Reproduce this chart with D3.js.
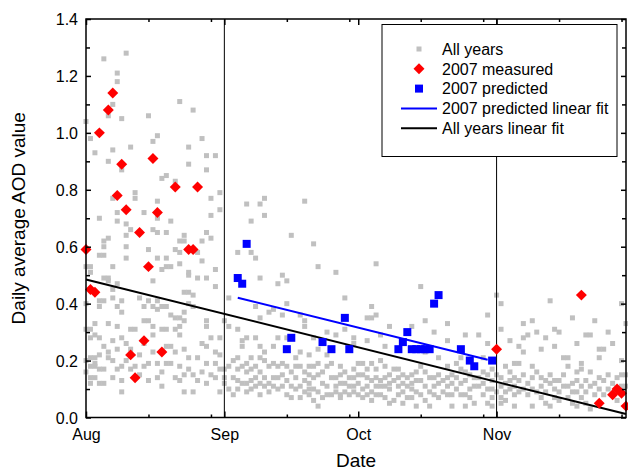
<!DOCTYPE html>
<html><head><meta charset="utf-8">
<script src="https://cdn.jsdelivr.net/npm/d3@7"></script>
<style>
body{margin:0;background:#fff}
svg{display:block;font-family:Arial,"Liberation Sans",sans-serif}
</style>
</head><body>
<svg id="chart" width="628" height="472"></svg>
<script>
// ---------- data ----------
const seasonStart = "2007-08-01";
const seasonEnd = "2007-11-30";
const monthLabels = ["Aug", "Sep", "Oct", "Nov"];
const monthStarts = ["2007-08-01", "2007-09-01", "2007-10-01", "2007-11-01"];
const minorTickDates = ["2007-08-15", "2007-08-29", "2007-09-15", "2007-09-29", "2007-10-15", "2007-10-29", "2007-11-15", "2007-11-29"];
const monthLines = ["2007-09-01", "2007-11-01"];
const yTicks = [0.0, 0.2, 0.4, 0.6, 0.8, 1.0, 1.2, 1.4];
const yMinorTicks = [0.1, 0.3, 0.5, 0.7, 0.9, 1.1, 1.3];
const legendLabels = ["All years", "2007 measured", "2007 predicted", "2007 predicted linear fit", "All years linear fit"];

// [days since Aug 1, daily average AOD]
const allYears = [
[4,1.26],[9,1.28],[7,1.21],[7,1.18],[6,1.10],[5,1.06],[8,1.05],[0,1.04],[14,1.06],[21,1.11],[24,1.08],[1,0.98],[2,0.93],[6,0.94],[10,0.95],[5,0.90],[15,0.97],[16,0.99],[23,0.95],[26,0.98],[27,0.92],[29,0.92],[23,0.89],[27,0.87],[8,0.87],[17,0.84],[18,0.85],[20,0.83],[6,0.77],[11,0.79],[11,0.77],[7,0.72],[7,0.69],[3,0.70],[9,0.68],[13,0.72],[16,0.76],[16,0.70],[19,0.69],[28,0.77],[28,0.71],[30,0.79],[30,0.73],[5,0.63],[10,0.66],[15,0.66],[18,0.65],[16,0.65],[22,0.64],[21,0.62],[26,0.62],[27,0.65],[28,0.63],
[36,0.75],[37,0.69],[39,0.75],[40,0.77],[40,0.71],[49,0.76],[46,0.64],
[9,0.64],[22,0.62],[4,0.62],[4,0.60],[3,0.57],[4,0.57],[9,0.60],[9,0.56],[14,0.59],[16,0.56],[18,0.56],[20,0.59],[21,0.58],[25,0.58],[26,0.55],[6,0.53],[0,0.53],[17,0.52],[18,0.53],[19,0.53],[21,0.54],[23,0.50],[23,0.51],[25,0.49],[27,0.49],[15,0.48],[4,0.49],[5,0.49],[5,0.48],[1,0.51],[6,0.45],[3,0.41],[4,0.41],[6,0.42],[8,0.41],[7,0.39],[3,0.39],[8,0.37],[12,0.42],[13,0.39],[15,0.39],[16,0.38],[17,0.39],[18,0.39],[14,0.41],[16,0.41],[19,0.36],[20,0.35],[22,0.37],[22,0.34],[24,0.39],[22,0.44],[23,0.44],[24,0.43],[23,0.40],[29,0.46],[0,0.40],[1,0.31],[2,0.29],[1,0.28],[3,0.28],[6,0.27],[7,0.32],[10,0.31],[11,0.31],[13,0.34],[14,0.34],[15,0.29],[15,0.32],[17,0.31],[18,0.31],[20,0.31],[21,0.32],[21,0.29],[21,0.35],[27,0.34],[8,0.28],[9,0.26],[28,0.28],[27,0.25],[30,0.28],[1,0.21],[2,0.21],[2,0.19],[5,0.23],[5,0.21],[0,0.20],[1,0.18],[2,0.18],[3,0.17],[4,0.17],[8,0.18],[7,0.17],[11,0.18],[13,0.18],[14,0.19],[15,0.23],[16,0.19],[18,0.19],[19,0.25],[22,0.24],[23,0.21],[21,0.18],[22,0.15],[24,0.15],[20,0.14],[21,0.13],[16,0.14],[6,0.14],[8,0.13],[1,0.14],[2,0.14],[3,0.12],[4,0.12],[1,0.12],[8,0.09],[17,0.11],[22,0.09],[24,0.09],[30,0.17],[30,0.09],[27,0.19],[1,0.53],[7,0.47],
[0,0.31],[0,0.16],[2,0.33],[3,0.22],[4,0.25],[5,0.33],[6,0.20],[7,0.24],[9,0.20],[10,0.17],[10,0.24],[12,0.22],[12,0.15],[13,0.26],[14,0.13],[17,0.16],[18,0.25],[19,0.19],[20,0.23],[23,0.17],[25,0.21],[25,0.13],[26,0.26],[26,0.16],[27,0.12],[28,0.15],[29,0.19],[29,0.14],[30,0.22],
[51,0.61],[34,0.58],[37,0.58],[38,0.56],[65,0.54],[52,0.53],[29,0.52],[56,0.51],[44,0.50],[45,0.48],[39,0.49],[43,0.47],[32,0.42],[45,0.40],[42,0.38],[41,0.37],[44,0.36],[38,0.39],[39,0.35],[48,0.36],[49,0.34],[58,0.42],[64,0.39],[63,0.35],[64,0.35],[65,0.36],[75,0.46],[92,0.43],[93,0.40],[81,0.33],[76,0.34],[78,0.30],[73,0.32],[68,0.32],[66,0.29],[67,0.25],[63,0.27],[60,0.28],[60,0.26],[58,0.31],[54,0.30],[56,0.29],[51,0.28],[49,0.32],[52,0.24],[54,0.22],[50,0.22],[48,0.23],[47,0.21],[45,0.28],[43,0.28],[42,0.25],[40,0.23],[39,0.25],[39,0.21],[38,0.28],[36,0.28],[35,0.27],[34,0.31],[32,0.32],[31,0.34],[27,0.32],[29,0.23],[35,0.25],[34,0.21],[33,0.20],[32,0.18],[31,0.17],[31,0.14],[31,0.12],[33,0.14],[34,0.17],[35,0.18],[36,0.19],[37,0.21],[38,0.18],[40,0.20],[42,0.19],[43,0.18],[44,0.19],[35,0.12],[36,0.12],[37,0.13],[38,0.14],[39,0.12],[40,0.11],[41,0.12],[42,0.14],[43,0.14],[44,0.11],[45,0.08],[46,0.16],[47,0.14],[48,0.18],[49,0.16],[50,0.15],[51,0.14],[48,0.11],[49,0.09],[50,0.12],[52,0.19],[54,0.18],[54,0.08],[56,0.14],[57,0.15],[58,0.12],[59,0.11],[60,0.14],[61,0.15],[63,0.14],[64,0.13],[65,0.14],[61,0.19],[62,0.19],[64,0.19],[66,0.20],[67,0.18],[68,0.15],[70,0.14],[70,0.11],[71,0.09],[73,0.15],[74,0.13],[75,0.18],[76,0.16],[78,0.14],[79,0.12],[81,0.18],[82,0.15],[83,0.19],[84,0.17],[85,0.13],[87,0.14],[88,0.11],[89,0.12],[90,0.15],[91,0.13],[66,0.08],[67,0.11],[61,0.08],[63,0.08],[57,0.08],[75,0.08],[78,0.08],[81,0.08],[85,0.08],[89,0.08],[96,0.19],[96,0.14],[88,0.29],[85,0.29],[90,0.26],[89,0.21],[81,0.27],[93,0.31],[76,0.23],[79,0.21],[84,0.21],
[32,0.10],[33,0.08],[34,0.13],[34,0.10],[36,0.16],[36,0.09],[37,0.17],[37,0.10],[38,0.11],[39,0.16],[39,0.08],[40,0.14],[41,0.18],[41,0.09],[42,0.11],[43,0.10],[44,0.15],[45,0.13],[45,0.18],[46,0.11],[46,0.07],[47,0.18],[47,0.10],[49,0.13],[50,0.18],[50,0.10],[51,0.10],[51,0.18],[52,0.15],[53,0.12],[53,0.16],[54,0.11],[55,0.14],[55,0.19],[56,0.11],[57,0.12],[57,0.18],[58,0.09],[58,0.16],[59,0.14],[60,0.09],[60,0.17],
[61,0.12],[62,0.10],[62,0.15],[63,0.11],[63,0.17],[64,0.09],[65,0.11],[65,0.17],[66,0.13],[66,0.11],[67,0.14],[68,0.10],[68,0.12],[69,0.13],[69,0.17],[70,0.17],[71,0.12],[71,0.15],[72,0.11],[72,0.14],[73,0.10],[73,0.12],[74,0.16],[74,0.09],[75,0.13],[76,0.11],[77,0.14],[77,0.09],[78,0.11],[79,0.15],[80,0.13],[80,0.09],[81,0.14],[82,0.12],[83,0.10],[83,0.14],[84,0.12],[85,0.16],[86,0.10],[86,0.15],[87,0.11],[88,0.14],[89,0.16],[90,0.10],[91,0.10],[91,0.17],
[92,0.09],[92,0.15],[93,0.11],[94,0.09],[95,0.10],[95,0.16],[96,0.11],[97,0.13],[98,0.10],[98,0.15],[99,0.12],[100,0.14],[101,0.09],[101,0.16],[102,0.11],[103,0.13],[103,0.09],[104,0.15],[105,0.10],[106,0.13],[106,0.09],[107,0.15],[108,0.11],[109,0.09],[110,0.13],[110,0.16],[111,0.11],[112,0.09],[112,0.13],[113,0.16],[114,0.12],[115,0.10],[116,0.13],[116,0.08],[117,0.10],[117,0.15],[118,0.12],[119,0.14],[119,0.06],[120,0.09],[121,0.11],
[95,0.27],[98,0.33],[103,0.28],[106,0.30],[109,0.35],[110,0.26],[117,0.30],[118,0.26],[121,0.33],
[90,0.36],[104,0.41],[100,0.34],[101,0.30],[99,0.29],[98,0.28],[97,0.25],[105,0.31],[105,0.25],[112,0.29],[113,0.29],[114,0.34],[120,0.40],[116,0.24],[115,0.21],[121,0.15],[120,0.11],[115,0.14],[111,0.19],[111,0.17],[108,0.21],[107,0.21],[108,0.18],[102,0.24],[100,0.18],[98,0.23],[97,0.19],[95,0.13],[94,0.18],[93,0.14],[94,0.12],[102,0.14],[104,0.12],[105,0.13],[107,0.11],[109,0.12],[110,0.09],[113,0.11],[114,0.08],[100,0.10],[99,0.08],[97,0.09],[93,0.07],[94,0.06],[96,0.08],[102,0.07],[103,0.05],[105,0.07],[106,0.06],[108,0.07],[109,0.05],[111,0.07],[112,0.05],[104,0.04],[110,0.04],[113,0.03],[90,0.05],[91,0.07],[86,0.07],[87,0.05],[84,0.08],[81,0.11],[82,0.08],[79,0.07],[76,0.06],[73,0.07],[71,0.05],[72,0.07],[69,0.06],[70,0.08],[67,0.07],[68,0.05],[64,0.06],[65,0.08],[62,0.07],[59,0.08],[60,0.11],[57,0.07],[55,0.08],[56,0.09],[52,0.09],[53,0.07],[50,0.08],[51,0.06],[48,0.07],[52,0.04],[74,0.04],[77,0.04],[82,0.04],[85,0.04],[91,0.04],[93,0.05],[96,0.04],[100,0.04],[115,0.24],[120,0.20],[120,0.15]
];

const measured2007 = [
[0,0.59],[1,0.45],[2,0.44],[3,1.00],[5,1.08],[6,1.14],[7,0.78],[8,0.89],[9,0.73],[10,0.22],[11,0.14],[12,0.65],[13,0.27],[14,0.53],[15,0.91],[16,0.72],[17,0.23],[20,0.81],[23,0.59],[24,0.59],[25,0.81],
[92,0.24],[111,0.43],[115,0.05],[118,0.08],[119,0.10],[120,0.085],[121,0.04]
];

const predicted2007 = [
[34,0.49],[35,0.47],[36,0.61],[45,0.24],[46,0.28],[53,0.265],[55,0.24],[58,0.35],[59,0.24],[70,0.24],[71,0.265],[72,0.30],[73,0.24],[74,0.24],[75,0.24],[76,0.24],[77,0.24],[78,0.40],[79,0.43],[84,0.24],[86,0.20],[87,0.18],[91,0.20]
];

const predictedFit = [[34,0.421],[90,0.203]];
const allYearsFit = [[0,0.485],[121,0.012]];

// ---------- chart ----------
const parse = d3.utcParse("%Y-%m-%d");
const start = parse(seasonStart);
const toDate = d => d3.utcDay.offset(start, Math.floor(d)).getTime() + (d % 1) * 864e5;

const pL = 86, pR = 626, pT = 19, pB = 417.5;
const x = d3.scaleUtc().domain([start, parse(seasonEnd)]).range([pL, pR]);
const y = d3.scaleLinear().domain([0, 1.4]).range([pB, pT]);

const svg = d3.select("#chart");
const fontTick = 16;

// gray all-years squares
const gs = 5;
svg.append("g").selectAll("rect").data(allYears).join("rect")
  .attr("x", d => x(toDate(d[0])) - gs / 2)
  .attr("y", d => y(d[1]) - gs / 2)
  .attr("width", gs).attr("height", gs)
  .attr("fill", "#c0c0c0");

// month separator lines
svg.append("g").selectAll("line").data(monthLines).join("line")
  .attr("x1", d => x(parse(d))).attr("x2", d => x(parse(d)))
  .attr("y1", pT).attr("y2", pB)
  .attr("stroke", "#000").attr("stroke-width", 1);

// fit lines
const line = d3.line().x(d => x(toDate(d[0]))).y(d => y(d[1]));
svg.append("path").datum(allYearsFit).attr("d", line)
  .attr("fill", "none").attr("stroke", "#000").attr("stroke-width", 2);
svg.append("path").datum(predictedFit).attr("d", line)
  .attr("fill", "none").attr("stroke", "#0000ff").attr("stroke-width", 2);

// red diamonds
const diamond = d3.symbol().type(d3.symbolSquare).size(60);
svg.append("g").selectAll("path").data(measured2007).join("path")
  .attr("d", diamond)
  .attr("transform", d => `translate(${x(toDate(d[0]))},${y(d[1])}) rotate(45)`)
  .attr("fill", "#ff0000");

// blue squares
const bs = 8;
svg.append("g").selectAll("rect").data(predicted2007).join("rect")
  .attr("x", d => x(toDate(d[0])) - bs / 2)
  .attr("y", d => y(d[1]) - bs / 2)
  .attr("width", bs).attr("height", bs)
  .attr("fill", "#0000ff");

// axes
function styleAxis(g) {
  g.select(".domain").remove();
  g.selectAll(".tick line").attr("stroke", "#000").attr("stroke-width", 1.5);
  g.selectAll("text").attr("font-size", fontTick).attr("fill", "#000")
    .attr("font-family", "Arial, 'Liberation Sans', sans-serif");
}
const monthDates = monthStarts.map(parse);
const minorDates = minorTickDates.map(parse);

svg.append("g").attr("transform", `translate(0,${pB})`)
  .call(d3.axisBottom(x).tickValues(monthDates).tickSize(-6)
    .tickFormat((d, i) => monthLabels[i]))
  .call(styleAxis)
  .call(g => g.selectAll("text").attr("y", 22.5).attr("dy", null));
svg.append("g").attr("transform", `translate(0,${pB})`)
  .call(d3.axisBottom(x).tickValues(minorDates).tickSize(-3).tickFormat(""))
  .call(styleAxis);
svg.append("g").attr("transform", `translate(0,${pT})`)
  .call(d3.axisTop(x).tickValues(monthDates).tickSize(-6).tickFormat(""))
  .call(styleAxis);
svg.append("g").attr("transform", `translate(0,${pT})`)
  .call(d3.axisTop(x).tickValues(minorDates).tickSize(-3).tickFormat(""))
  .call(styleAxis);

svg.append("g").attr("transform", `translate(${pL},0)`)
  .call(d3.axisLeft(y).tickValues(yTicks).tickSize(-5).tickPadding(8)
    .tickFormat(d3.format(".1f")))
  .call(styleAxis)
  .call(g => g.selectAll("text").attr("dy", "0.36em"));
svg.append("g").attr("transform", `translate(${pL},0)`)
  .call(d3.axisLeft(y).tickValues(yMinorTicks).tickSize(-4).tickFormat(""))
  .call(styleAxis);
svg.append("g").attr("transform", `translate(${pR},0)`)
  .call(d3.axisRight(y).tickValues(yTicks).tickSize(-5).tickFormat(""))
  .call(styleAxis);
svg.append("g").attr("transform", `translate(${pR},0)`)
  .call(d3.axisRight(y).tickValues(yMinorTicks).tickSize(-4).tickFormat(""))
  .call(styleAxis);

// frame
svg.append("rect").attr("x", pL).attr("y", pT)
  .attr("width", pR - pL).attr("height", pB - pT)
  .attr("fill", "none").attr("stroke", "#000").attr("stroke-width", 1.5);

// axis titles
svg.append("text").attr("x", (pL + pR) / 2).attr("y", 467)
  .attr("text-anchor", "middle").attr("font-size", 19).text("Date");
svg.append("text").attr("transform", `translate(25,${(pT + pB) / 2}) rotate(-90)`)
  .attr("text-anchor", "middle").attr("font-size", 19).text("Daily average AOD value");

// legend
const lg = svg.append("g");
lg.append("rect").attr("x", 382).attr("y", 24.5).attr("width", 235).attr("height", 132)
  .attr("fill", "#fff").attr("stroke", "#000").attr("stroke-width", 1);
const ly = i => 49 + i * 19.8;
const sx = 419;
lg.append("rect").attr("x", sx - 2.5).attr("y", ly(0) - 2.5).attr("width", 5).attr("height", 5).attr("fill", "#c0c0c0");
lg.append("path").attr("d", diamond).attr("transform", `translate(${sx},${ly(1)}) rotate(45)`).attr("fill", "#ff0000");
lg.append("rect").attr("x", sx - 4).attr("y", ly(2) - 4).attr("width", 8).attr("height", 8).attr("fill", "#0000ff");
lg.append("line").attr("x1", 401).attr("x2", 437).attr("y1", ly(3)).attr("y2", ly(3)).attr("stroke", "#0000ff").attr("stroke-width", 2);
lg.append("line").attr("x1", 401).attr("x2", 437).attr("y1", ly(4)).attr("y2", ly(4)).attr("stroke", "#000").attr("stroke-width", 2);
lg.selectAll("text.lbl").data(legendLabels).join("text").attr("class", "lbl")
  .attr("x", 442).attr("y", (d, i) => ly(i) + 5.7)
  .attr("font-size", 16).text(d => d);
</script>
</body></html>
